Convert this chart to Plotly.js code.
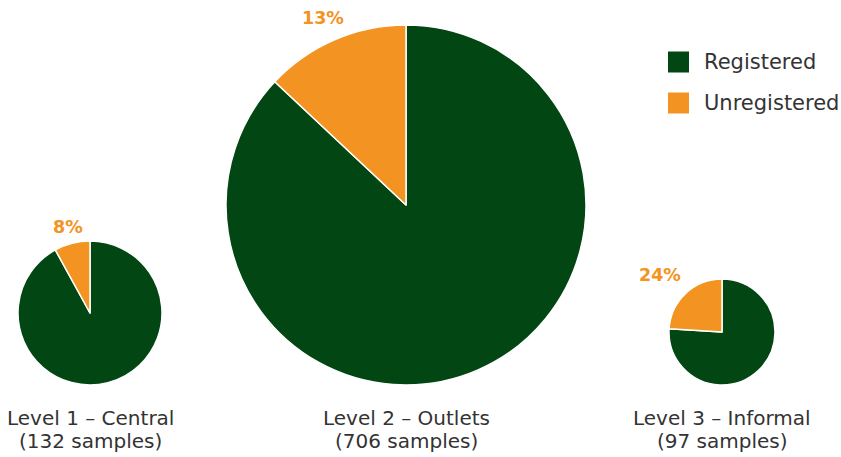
<!DOCTYPE html>
<html>
<head>
<meta charset="utf-8">
<script src="https://cdn.plot.ly/plotly-3.0.1.min.js"></script>
<style>html,body{margin:0;padding:0;background:#fff;}#chart{width:841px;height:457px;}</style>
</head>
<body>
<div id="chart"></div>
<script>
// Data
var statusLabels = ['Registered', 'Unregistered'];
var levelNames = ['Level 1 \u2013 Central', 'Level 2 \u2013 Outlets', 'Level 3 \u2013 Informal'];
var sampleCounts = [132, 706, 97];
var registeredPct = [92, 87, 76];
var unregisteredPct = [8, 13, 24];

// Styling / layout
var colors = ['#024713', '#F39322'];
var textColor = '#333333';
var fontFamily = '"DejaVu Sans", "Noto Sans", sans-serif';
var W = 841, H = 457;
// pie boxes: [left, top, size] in pixels
var boxes = [[18, 241, 144], [226, 25, 360], [669, 279, 106]];
// percent label centres in pixels
var pctLabelPos = [[68, 227], [323, 18], [660, 275]];

var traces = [];
var annotations = [];
for (var i = 0; i < levelNames.length; i++) {
  var b = boxes[i];
  traces.push({
    type: 'pie',
    labels: statusLabels,
    values: [registeredPct[i], unregisteredPct[i]],
    sort: false,
    direction: 'clockwise',
    rotation: 0,
    marker: {colors: colors, line: {color: '#ffffff', width: 1.5}},
    textinfo: 'none',
    hoverinfo: 'label+percent',
    showlegend: false,
    domain: {x: [b[0] / W, (b[0] + b[2]) / W], y: [1 - (b[1] + b[2]) / H, 1 - b[1] / H]}
  });
  var cx = (b[0] + b[2] / 2) / W;
  annotations.push({
    xref: 'paper', yref: 'paper', x: cx, y: 1 - 418 / H,
    xanchor: 'center', yanchor: 'middle',
    text: levelNames[i], showarrow: false,
    font: {family: fontFamily, size: 20, color: textColor}
  });
  annotations.push({
    xref: 'paper', yref: 'paper', x: cx, y: 1 - 441 / H,
    xanchor: 'center', yanchor: 'middle',
    text: '(' + sampleCounts[i] + ' samples)', showarrow: false,
    font: {family: fontFamily, size: 20, color: textColor}
  });
  annotations.push({
    xref: 'paper', yref: 'paper',
    x: pctLabelPos[i][0] / W, y: 1 - pctLabelPos[i][1] / H,
    xanchor: 'center', yanchor: 'middle',
    text: '<b>' + unregisteredPct[i] + '%</b>',
    showarrow: false,
    font: {family: fontFamily, size: 17.5, color: colors[1]}
  });
}

// custom legend
var shapes = [];
var legendY = [62, 103];
for (var k = 0; k < statusLabels.length; k++) {
  shapes.push({
    type: 'rect', xref: 'paper', yref: 'paper',
    x0: 668 / W, x1: 689 / W,
    y0: 1 - (legendY[k] + 10.5) / H, y1: 1 - (legendY[k] - 10.5) / H,
    fillcolor: colors[k], line: {width: 0}
  });
  annotations.push({
    xref: 'paper', yref: 'paper',
    x: 702 / W, y: 1 - legendY[k] / H,
    xanchor: 'left', yanchor: 'middle',
    text: statusLabels[k], showarrow: false,
    font: {family: fontFamily, size: 21, color: textColor}
  });
}

var layout = {
  width: W, height: H,
  margin: {l: 0, r: 0, t: 0, b: 0},
  paper_bgcolor: '#ffffff',
  showlegend: false,
  annotations: annotations,
  shapes: shapes
};
Plotly.newPlot('chart', traces, layout, {displayModeBar: false, staticPlot: true});
</script>
</body>
</html>
